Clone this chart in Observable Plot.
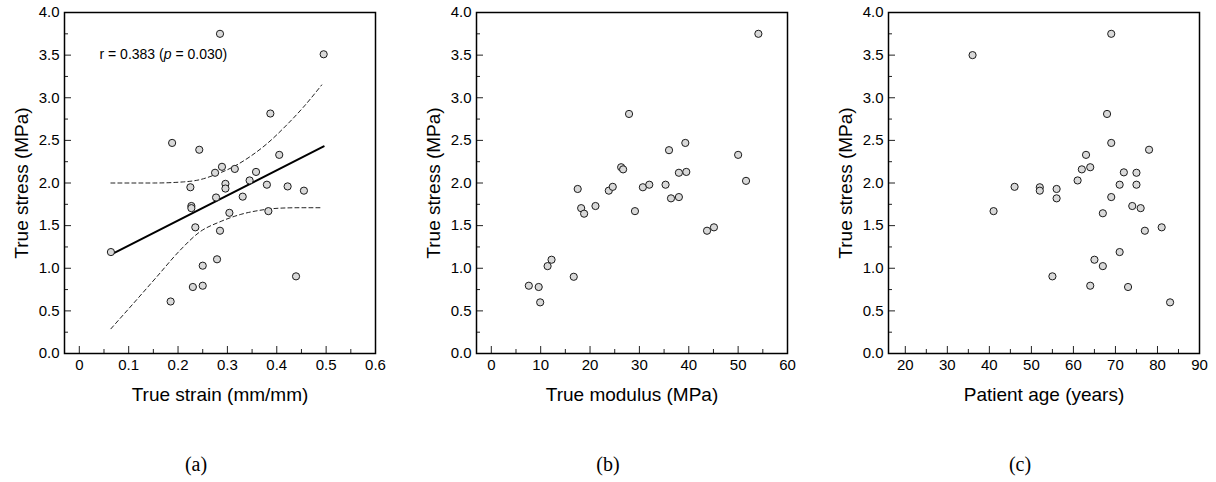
<!DOCTYPE html>
<html>
<head>
<meta charset="utf-8">
<script src="https://cdn.jsdelivr.net/npm/d3@7"></script>
<script src="https://cdn.jsdelivr.net/npm/@observablehq/plot@0.6"></script>
<style>
  html, body { margin: 0; padding: 0; background: #fff; }
  #wrap { position: relative; width: 1216px; height: 482px; background: #fff; }
  .pan { position: absolute; top: 0; }
</style>
</head>
<body>
<div id="wrap"></div>
<script>
// ---- Data ----
// Panel (a): true strain vs true stress
const strain  = [0.285,0.495,0.387,0.188,0.243,0.405,0.275,0.289,0.315,0.358,0.345,0.296,0.296,0.225,0.380,0.422,0.455,0.277,0.331,0.227,0.227,0.304,0.383,0.235,0.285,0.064,0.279,0.250,0.439,0.230,0.250,0.185];
const stressA = [3.75,3.51,2.815,2.47,2.39,2.33,2.12,2.19,2.165,2.13,2.03,1.99,1.935,1.95,1.98,1.96,1.91,1.83,1.84,1.73,1.705,1.65,1.67,1.48,1.44,1.19,1.105,1.03,0.905,0.78,0.795,0.61];
const fitX = [0.064, 0.495];
const fitY = [1.16, 2.43];
const ciUpX = [0.064, 0.15, 0.211, 0.245, 0.272, 0.312, 0.346, 0.380, 0.420, 0.454, 0.491];
const ciUpY = [2.0, 2.0, 2.013, 2.04, 2.09, 2.19, 2.31, 2.46, 2.68, 2.89, 3.15];
const ciLoX = [0.064, 0.110, 0.157, 0.204, 0.245, 0.285, 0.326, 0.366, 0.407, 0.447, 0.488];
const ciLoY = [0.29, 0.59, 0.90, 1.21, 1.43, 1.545, 1.63, 1.68, 1.705, 1.71, 1.71];
const annotation = "r = 0.383 (p = 0.030)";

// Panel (b): true modulus vs true stress
const modulus = [54.1,27.9,39.3,36.0,50.0,26.3,26.7,38.0,39.5,51.6,17.5,23.8,24.6,30.7,32.0,35.3,36.4,38.0,18.2,18.8,21.1,29.1,43.7,45.1,7.6,9.6,9.9,11.4,12.2,16.7];
const stressB = [3.75,2.81,2.47,2.385,2.33,2.185,2.16,2.12,2.13,2.025,1.93,1.91,1.955,1.95,1.98,1.98,1.82,1.835,1.705,1.64,1.73,1.67,1.44,1.48,0.795,0.78,0.60,1.025,1.10,0.90];

// Panel (c): patient age vs true stress
const age     = [36,69,68,69,78,63,62,64,72,75,61,71,75,46,52,52,56,56,69,41,67,74,76,77,81,71,65,67,55,64,73,83];
const stressC = [3.50,3.75,2.81,2.47,2.39,2.33,2.16,2.185,2.125,2.12,2.03,1.98,1.98,1.955,1.95,1.91,1.93,1.82,1.835,1.67,1.645,1.73,1.705,1.44,1.48,1.19,1.10,1.025,0.905,0.795,0.78,0.60];

// Axis ticks / labels
const yMajor = [0, 0.5, 1, 1.5, 2, 2.5, 3, 3.5, 4];
const yMinor = [0.25, 0.75, 1.25, 1.75, 2.25, 2.75, 3.25, 3.75];
const xMajorA = [0, 0.1, 0.2, 0.3, 0.4, 0.5, 0.6];
const xMinorA = [0.05, 0.15, 0.25, 0.35, 0.45, 0.55];
const xMajorB = [0, 10, 20, 30, 40, 50, 60];
const xMinorB = [5, 15, 25, 35, 45, 55];
const xMajorC = [20, 30, 40, 50, 60, 70, 80, 90];
const xMinorC = [25, 35, 45, 55, 65, 75, 85];
const yLabel = "True stress (MPa)";
const xLabels = ["True strain (mm/mm)", "True modulus (MPa)", "Patient age (years)"];
const panelTags = ["(a)", "(b)", "(c)"];

// ---- Layout ----
const H = 482, MT = 12, MB = 129, ML = 64;
const plotH = H - MT - MB;
const plotW = 311;
const sans = "'Liberation Sans', Arial, Helvetica, sans-serif";
const serif = "'Liberation Serif', 'Times New Roman', serif";

function panel({left, width, xDomain, xMajor, xMinor, xFmt, xs, ys, xLabel, tag, extra = []}) {
  const MR = width - ML - plotW;
  const chart = Plot.plot({
    width, height: H,
    marginLeft: ML, marginRight: MR, marginTop: MT, marginBottom: MB,
    style: {fontFamily: sans, background: "white", color: "#000", overflow: "visible"},
    x: {domain: xDomain, label: null},
    y: {domain: [0, 4], label: null},
    marks: [
      Plot.ruleX(xMajor, {insetTop: plotH - 7, stroke: "#222"}),
      Plot.ruleX(xMinor, {insetTop: plotH - 4, stroke: "#222"}),
      Plot.ruleY(yMajor, {insetRight: plotW - 7, stroke: "#222"}),
      Plot.ruleY(yMinor, {insetRight: plotW - 4, stroke: "#222"}),
      Plot.axisX(xMajor, {tickSize: 0, tickPadding: 6, fontSize: 15, tickFormat: xFmt, label: null}),
      Plot.axisY(yMajor, {tickSize: 0, tickPadding: 5, fontSize: 15, tickFormat: d3.format(".1f"), label: null}),
      ...extra,
      Plot.dot(xs, {x: xs, y: ys, r: 3.6, fill: "#d9d9d9", stroke: "#1a1a1a", strokeWidth: 1}),
      Plot.frame({stroke: "#000", strokeWidth: 1.5}),
      Plot.text([yLabel], {frameAnchor: "left", textAnchor: "middle", lineAnchor: "middle", rotate: -90, dx: -43, fontSize: 19}),
      Plot.text([xLabel], {frameAnchor: "bottom", textAnchor: "middle", lineAnchor: "middle", dy: 41, fontSize: 19}),
      Plot.text([tag], {frameAnchor: "bottom", textAnchor: "middle", lineAnchor: "middle", dy: 111, dx: -24, fontSize: 20, fontFamily: serif})
    ]
  });
  chart.classList.add("pan");
  chart.style.left = left + "px";
  document.getElementById("wrap").appendChild(chart);
  return chart;
}

const fmtA = d => d === 0 ? "0" : d3.format(".1f")(d);
const fmtInt = d3.format("d");

const chartA = panel({
  left: 0, width: 400, xDomain: [-0.03, 0.6], xMajor: xMajorA, xMinor: xMinorA, xFmt: fmtA,
  xs: strain, ys: stressA, xLabel: xLabels[0], tag: panelTags[0],
  extra: [
    Plot.line(ciUpX, {x: ciUpX, y: ciUpY, curve: "monotone-x", stroke: "#222", strokeWidth: 1, strokeDasharray: "4,3"}),
    Plot.line(ciLoX, {x: ciLoX, y: ciLoY, curve: "monotone-x", stroke: "#222", strokeWidth: 1, strokeDasharray: "4,3"}),
    Plot.line(fitX, {x: fitX, y: fitY, stroke: "#000", strokeWidth: 2}),
    Plot.text([annotation], {frameAnchor: "top-left", dx: 35, dy: 42, textAnchor: "start", lineAnchor: "middle", fontSize: 14})
  ]
});
panel({
  left: 412, width: 400, xDomain: [-3, 60], xMajor: xMajorB, xMinor: xMinorB, xFmt: fmtInt,
  xs: modulus, ys: stressB, xLabel: xLabels[1], tag: panelTags[1]
});
panel({
  left: 824, width: 392, xDomain: [16, 90], xMajor: xMajorC, xMinor: xMinorC, xFmt: fmtInt,
  xs: age, ys: stressC, xLabel: xLabels[2], tag: panelTags[2]
});

// Italicise the "p" in the annotation
d3.select(chartA).selectAll("text").filter(function() { return this.textContent === annotation; })
  .each(function() {
    const t = d3.select(this);
    t.text(null);
    t.append("tspan").text("r = 0.383 (");
    t.append("tspan").attr("font-style", "italic").text("p");
    t.append("tspan").text(" = 0.030)");
  });
</script>
</body>
</html>
